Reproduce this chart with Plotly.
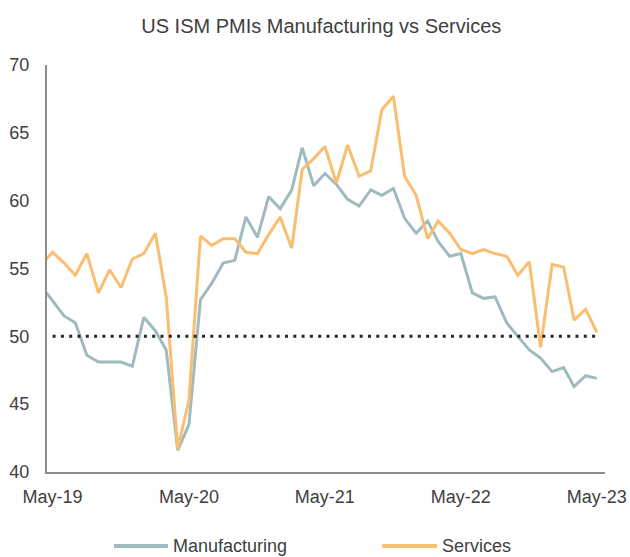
import plotly.graph_objects as go
import pandas as pd

months = pd.date_range("2019-04-01", "2023-05-01", freq="MS")

manufacturing = [
    53.7, 52.6, 51.5, 51.0, 48.6, 48.1, 48.1, 48.1, 47.8,
    51.4, 50.4, 49.0, 41.6, 43.5, 52.7, 53.9, 55.4, 55.6, 58.8, 57.3, 60.3,
    59.4, 60.8, 63.9, 61.1, 62.0, 61.2, 60.1, 59.6, 60.8, 60.4, 60.9, 58.7,
    57.6, 58.5, 57.0, 55.9, 56.1, 53.2, 52.8, 52.9, 51.0, 50.0, 49.0, 48.4,
    47.4, 47.7, 46.3, 47.1, 46.9,
]
services = [
    55.3, 56.2, 55.4, 54.5, 56.1, 53.2, 54.9, 53.6, 55.7,
    56.1, 57.6, 52.9, 41.7, 45.3, 57.4, 56.7, 57.2, 57.2, 56.2, 56.1, 57.5,
    58.8, 56.5, 62.3, 63.1, 64.0, 61.3, 64.1, 61.8, 62.2, 66.7, 67.7, 61.8,
    60.4, 57.2, 58.5, 57.6, 56.4, 56.1, 56.4, 56.1, 55.9, 54.5, 55.5, 49.2,
    55.3, 55.1, 51.2, 52.0, 50.3,
]
threshold_x = ["2019-05-01", "2023-05-01"]
threshold_y = [50, 50]
tick_dates = ["2019-05-01", "2020-05-01", "2021-05-01", "2022-05-01", "2023-05-01"]
tick_labels = ["May-19", "May-20", "May-21", "May-22", "May-23"]
y_ticks = [40, 45, 50, 55, 60, 65, 70]

GRAY = "rgb(160,187,191)"
ORANGE = "rgb(250,190,112)"
TXT = "#404040"
FONT = "Liberation Sans, Arial, sans-serif"

fig = go.Figure()
fig.add_trace(go.Scatter(x=months, y=manufacturing, mode="lines", name="Manufacturing",
                         line=dict(color=GRAY, width=3), showlegend=False))
fig.add_trace(go.Scatter(x=months, y=services, mode="lines", name="Services",
                         line=dict(color=ORANGE, width=3), showlegend=False))
fig.add_trace(go.Scatter(x=threshold_x, y=threshold_y, mode="lines", showlegend=False,
                         line=dict(color="#262626", width=3, dash="3px,5.3px")))

# custom legend (long line samples)
legend_items = [("Manufacturing", GRAY, 0.120, 0.2168), ("Services", ORANGE, 0.6004, 0.699)]
for name, col, x0, x1 in legend_items:
    fig.add_shape(type="line", xref="paper", yref="paper", x0=x0, x1=x1, y0=-0.182, y1=-0.182,
                  line=dict(color=col, width=4))
    fig.add_annotation(xref="paper", yref="paper", x=x1 + 0.006, y=-0.182, text=name,
                       showarrow=False, xanchor="left", yanchor="middle",
                       font=dict(family=FONT, size=18, color=TXT))

fig.update_layout(
    width=630, height=557,
    margin=dict(l=47, r=25, t=65, b=85),
    paper_bgcolor="white", plot_bgcolor="white",
    title=dict(text="US ISM PMIs Manufacturing vs Services", x=0.51, xanchor="center",
               y=1 - 26 / 557, yanchor="middle", yref="container",
               font=dict(family=FONT, size=20, color=TXT)),
    font=dict(family=FONT, size=18, color="#595959"),
)
fig.update_xaxes(type="date", range=["2019-04-16", "2023-05-23"],
                 tickvals=tick_dates, ticktext=tick_labels, automargin=False,
                 showgrid=False, zeroline=False,
                 showline=True, linecolor="#8c8c8c", linewidth=1.5,
                 ticks="outside", ticklen=8, tickcolor="rgba(0,0,0,0)",
                 tickfont=dict(family=FONT, size=18, color=TXT))
fig.update_yaxes(range=[40, 70], tickvals=y_ticks, automargin=False,
                 showgrid=False, zeroline=False,
                 showline=True, linecolor="#8c8c8c", linewidth=2,
                 ticks="outside", ticklen=12, tickcolor="rgba(0,0,0,0)",
                 tickfont=dict(family=FONT, size=18, color=TXT))

fig.write_html("out.html")
